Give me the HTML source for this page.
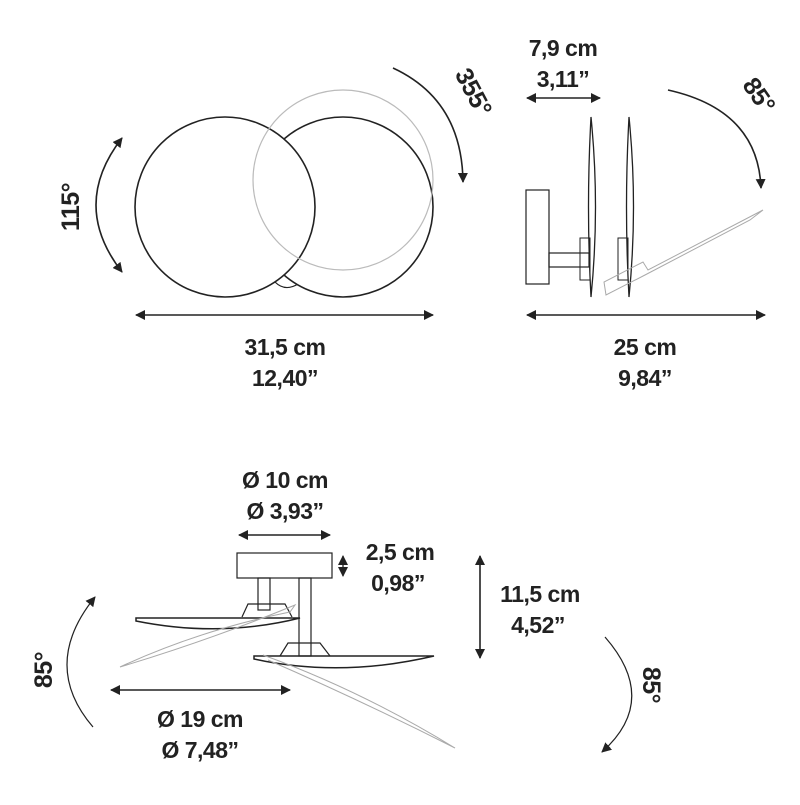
<!DOCTYPE html>
<html><head><meta charset="utf-8"><style>
html,body{margin:0;padding:0;background:#fff}
svg text{font-family:"Liberation Sans",sans-serif;font-size:23px;font-weight:bold;fill:#222;text-anchor:middle;letter-spacing:-0.5px}
</style></head><body>
<svg width="800" height="800" viewBox="0 0 800 800" xmlns="http://www.w3.org/2000/svg">
<defs>
<marker id="a" viewBox="0 0 10 10" refX="9" refY="5" markerWidth="10" markerHeight="10" orient="auto-start-reverse" markerUnits="userSpaceOnUse"><path d="M0,0L10,5L0,10z" fill="#222"/></marker>
</defs>
<g fill="none" stroke="#222" stroke-width="1.6">
<path d="M275,282 Q285,292 298,284" stroke-width="1.2"/>
<circle cx="343" cy="207" r="90" fill="#fff"/>
<circle cx="225" cy="207" r="90" fill="#fff"/>
<circle cx="343" cy="180" r="90" stroke="#bbb" stroke-width="1.2"/>
<path d="M122,138 Q70,205 122,272" marker-start="url(#a)" marker-end="url(#a)"/>
<path d="M393,68 Q462,100 463,182" marker-end="url(#a)"/>
<line x1="136" y1="315" x2="433" y2="315" marker-start="url(#a)" marker-end="url(#a)"/>
<line x1="527" y1="98" x2="600" y2="98" marker-start="url(#a)" marker-end="url(#a)"/>
<path d="M668,90 Q758,110 761,188" marker-end="url(#a)"/>
<rect x="526" y="190" width="23" height="94" stroke-width="1.2"/>
<rect x="549" y="253" width="40" height="14" stroke-width="1.2"/>
<path d="M591,117 Q600,207 591,297 Q586,207 591,117z" stroke-width="1.3"/>
<path d="M629,117 Q638,207 629,297 Q624,207 629,117z" stroke-width="1.3"/>
<rect x="580" y="238" width="10" height="42" stroke-width="1"/>
<rect x="618" y="238" width="10" height="42" stroke-width="1"/>
<path d="M606,295 L604,282 L643,262 L648,270 L763,210 L750,220 L645,275 Z" stroke="#aaa" stroke-width="1"/>
<line x1="527" y1="315" x2="765" y2="315" marker-start="url(#a)" marker-end="url(#a)"/>
<line x1="239" y1="535" x2="330" y2="535" marker-start="url(#a)" marker-end="url(#a)"/>
<rect x="237" y="553" width="95" height="25" stroke-width="1.2"/>
<line x1="343" y1="556" x2="343" y2="576" marker-start="url(#a)" marker-end="url(#a)" stroke-width="1.3"/>
<line x1="480" y1="556" x2="480" y2="658" marker-start="url(#a)" marker-end="url(#a)"/>
<rect x="258" y="578" width="12" height="32" stroke-width="1.2"/>
<rect x="299" y="578" width="12" height="78" stroke-width="1.2"/>
<path d="M136,618 L300,618 Q220,638 136,621z" stroke-width="1.5"/>
<path d="M242,617 L248,604 L285,604 L292,617" stroke-width="1.2"/>
<path d="M254,656 L434,656 Q340,678 254,659z" stroke-width="1.5"/>
<path d="M280,656 L288,643 L320,643 L330,656" stroke-width="1.2"/>
<path d="M120,667 Q200,630 290,612 L295,605 Q210,640 120,667" stroke="#aaa" stroke-width="1"/>
<path d="M263,655 Q360,690 455,748 Q360,700 268,660" stroke="#aaa" stroke-width="1"/>
<line x1="111" y1="690" x2="290" y2="690" marker-start="url(#a)" marker-end="url(#a)"/>
<path d="M95,597 Q40,665 93,727" marker-start="url(#a)" stroke-width="1.2"/>
<path d="M605,637 Q660,700 602,752" marker-end="url(#a)" stroke-width="1.2"/>
</g>
<text x="285" y="355">31,5 cm</text>
<text x="285" y="386">12,40”</text>
<text transform="translate(79,207) rotate(-90)" style="font-size:25px">115°</text>
<text transform="translate(466,96) rotate(62)" style="font-size:25px">355°</text>
<text x="563" y="56">7,9 cm</text>
<text x="563" y="87">3,11”</text>
<text transform="translate(752,100) rotate(55)" style="font-size:25px">85°</text>
<text x="645" y="355">25 cm</text>
<text x="645" y="386">9,84”</text>
<text x="285" y="488">Ø 10 cm</text>
<text x="285" y="519">Ø 3,93”</text>
<text x="400" y="560">2,5 cm</text>
<text x="398" y="591">0,98”</text>
<text x="540" y="602">11,5 cm</text>
<text x="538" y="633">4,52”</text>
<text x="200" y="727">Ø 19 cm</text>
<text x="200" y="758">Ø 7,48”</text>
<text transform="translate(52,670) rotate(-90)" style="font-size:25px">85°</text>
<text transform="translate(643,685) rotate(90)" style="font-size:25px">85°</text>
</svg>
</body></html>
